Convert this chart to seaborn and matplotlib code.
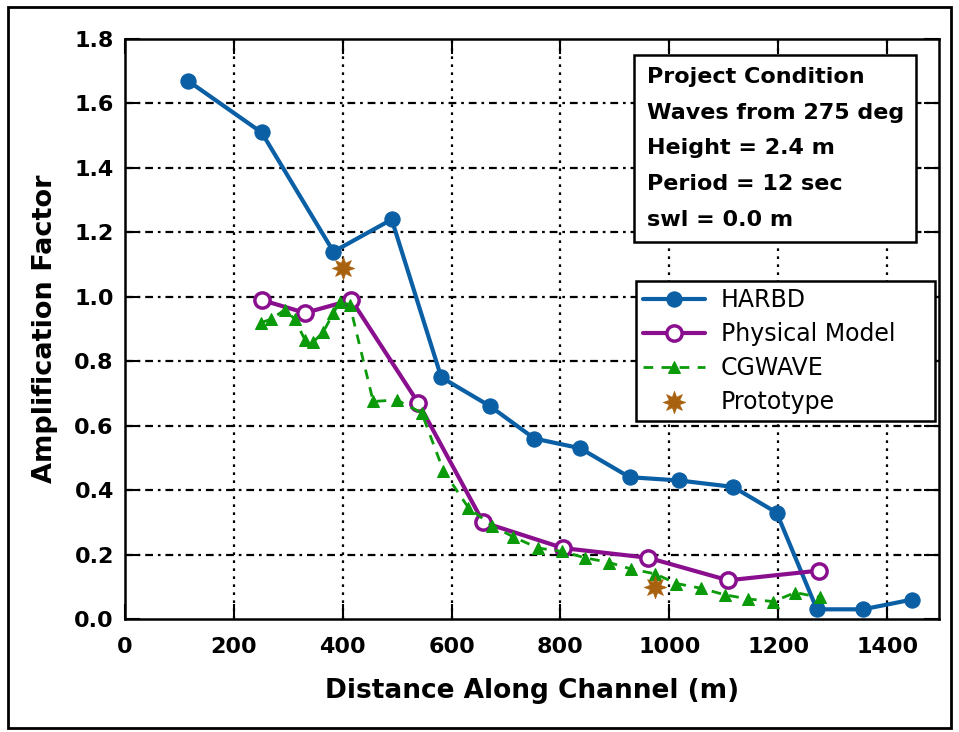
import matplotlib
matplotlib.use("Agg")
import matplotlib.pyplot as plt
import seaborn as sns
import pandas as pd
from matplotlib.patches import Rectangle

# ---- data ----
harbd_x = [116, 251, 383, 490, 581, 671, 752, 836, 927, 1017, 1117, 1197, 1271, 1356, 1445]
harbd_y = [1.67, 1.51, 1.14, 1.24, 0.75, 0.66, 0.56, 0.53, 0.44, 0.43, 0.41, 0.33, 0.03, 0.03, 0.06]

phys_x = [251, 331, 416, 539, 658, 805, 961, 1108, 1274]
phys_y = [0.99, 0.95, 0.99, 0.67, 0.30, 0.22, 0.19, 0.12, 0.15]

cg_x = [250, 268, 294, 312, 331, 346, 364, 383, 395, 413, 456, 499, 545, 585, 631,
        674, 713, 759, 802, 845, 890, 930, 974, 1013, 1059, 1102, 1145, 1191, 1231, 1277]
cg_y = [0.92, 0.93, 0.96, 0.93, 0.865, 0.86, 0.89, 0.95, 0.985, 0.975, 0.675, 0.68, 0.64, 0.46, 0.345,
        0.29, 0.255, 0.22, 0.21, 0.19, 0.175, 0.155, 0.14, 0.11, 0.095, 0.075, 0.062, 0.054, 0.082, 0.067]

proto_x = [401, 974]
proto_y = [1.09, 0.10]

x_ticks = [0, 200, 400, 600, 800, 1000, 1200, 1400]
y_ticks = [0.0, 0.2, 0.4, 0.6, 0.8, 1.0, 1.2, 1.4, 1.6, 1.8]

info_lines = ["Project Condition", "Waves from 275 deg", "Height = 2.4 m",
              "Period = 12 sec", "swl = 0.0 m"]

sns.set_theme(style="white")
plt.rcParams['font.family'] = ['DejaVu Sans']
plt.rcParams['text.color'] = 'black'
plt.rcParams['axes.labelcolor'] = 'black'

fig = plt.figure(figsize=(9.59, 7.32), dpi=100)
ax = fig.add_axes([0.1303, 0.1544, 0.979 - 0.1303, 0.9467 - 0.1544])

blue = "#0a5fa5"
purple = "#8a0f8f"
green = "#0a9a0a"
brown = "#a8620f"

sns.lineplot(x=harbd_x, y=harbd_y, ax=ax, color=blue, lw=3, marker='o', ms=11,
             mec=blue, mfc=blue, label="HARBD", sort=False, estimator=None)
sns.lineplot(x=phys_x, y=phys_y, ax=ax, color=purple, lw=3, marker='o', ms=11,
             mec=purple, mfc='white', mew=2.5, label="Physical Model", sort=False, estimator=None)
sns.lineplot(x=cg_x, y=cg_y, ax=ax, color=green, lw=2, marker='^', ms=8,
             mec=green, mfc=green, label="CGWAVE", sort=False, estimator=None)
ax.lines[-1].set_linestyle((0, (3.5, 3)))
sns.scatterplot(x=proto_x, y=proto_y, ax=ax, color=brown, marker=(8, 1, 0), s=260,
                edgecolor=brown, linewidth=0.5, label="Prototype", zorder=5)

ax.set_xlim(0, 1495)
ax.set_ylim(0, 1.8)
ax.set_xticks(x_ticks)
ax.set_yticks(y_ticks)
ax.set_xticklabels([str(t) for t in x_ticks])
ax.set_yticklabels([f"{t:.1f}" for t in y_ticks])

# grid: dotted verticals, dash-dot horizontals
for t in x_ticks[1:]:
    ax.axvline(t, color='black', lw=1.6, ls=(0, (1.2, 2.4)), zorder=0.5)
for t in y_ticks[1:-1]:
    ax.axhline(t, color='black', lw=1.6, ls=(0, (3.5, 2.2, 1.2, 2.2)), zorder=0.5)

for s in ax.spines.values():
    s.set_color('black')
    s.set_linewidth(1.8)
ax.tick_params(direction='in', length=11, width=1.5, top=True, right=True,
               bottom=True, left=True, labelsize=16, colors='black')
ax.tick_params(axis='x', pad=13)
ax.tick_params(axis='y', pad=8)
for lab in ax.get_xticklabels() + ax.get_yticklabels():
    lab.set_fontweight('bold')

ax.set_xlabel("Distance Along Channel (m)", fontsize=19, fontweight='bold', labelpad=15)
ax.set_ylabel("Amplification Factor", fontsize=19.5, fontweight='bold', labelpad=12)

leg = ax.legend(loc='upper left', bbox_to_anchor=(0.628, 0.583, 0.367, 0.0), mode='expand',
                fontsize=17, frameon=True, fancybox=False, edgecolor='black', borderpad=0.3,
                handlelength=2.6, labelspacing=0.42, handletextpad=0.7, borderaxespad=0)
leg.get_frame().set_linewidth(1.8)
leg.get_frame().set_facecolor('white')
leg.get_frame().set_alpha(1)
for t in leg.get_texts():
    t.set_color('black')

ax.text(0.641, 0.952, "\n".join(info_lines), transform=ax.transAxes, fontsize=16,
        fontweight='bold', va='top', ha='left', linespacing=1.98, color='black',
        bbox=dict(boxstyle='square,pad=0.55', fc='white', ec='black', lw=1.8), zorder=6)

fig.patches.append(Rectangle((0.008, 0.006), 0.984, 0.985, transform=fig.transFigure,
                             fill=False, ec='black', lw=2))

fig.savefig("out.png", dpi=100)
